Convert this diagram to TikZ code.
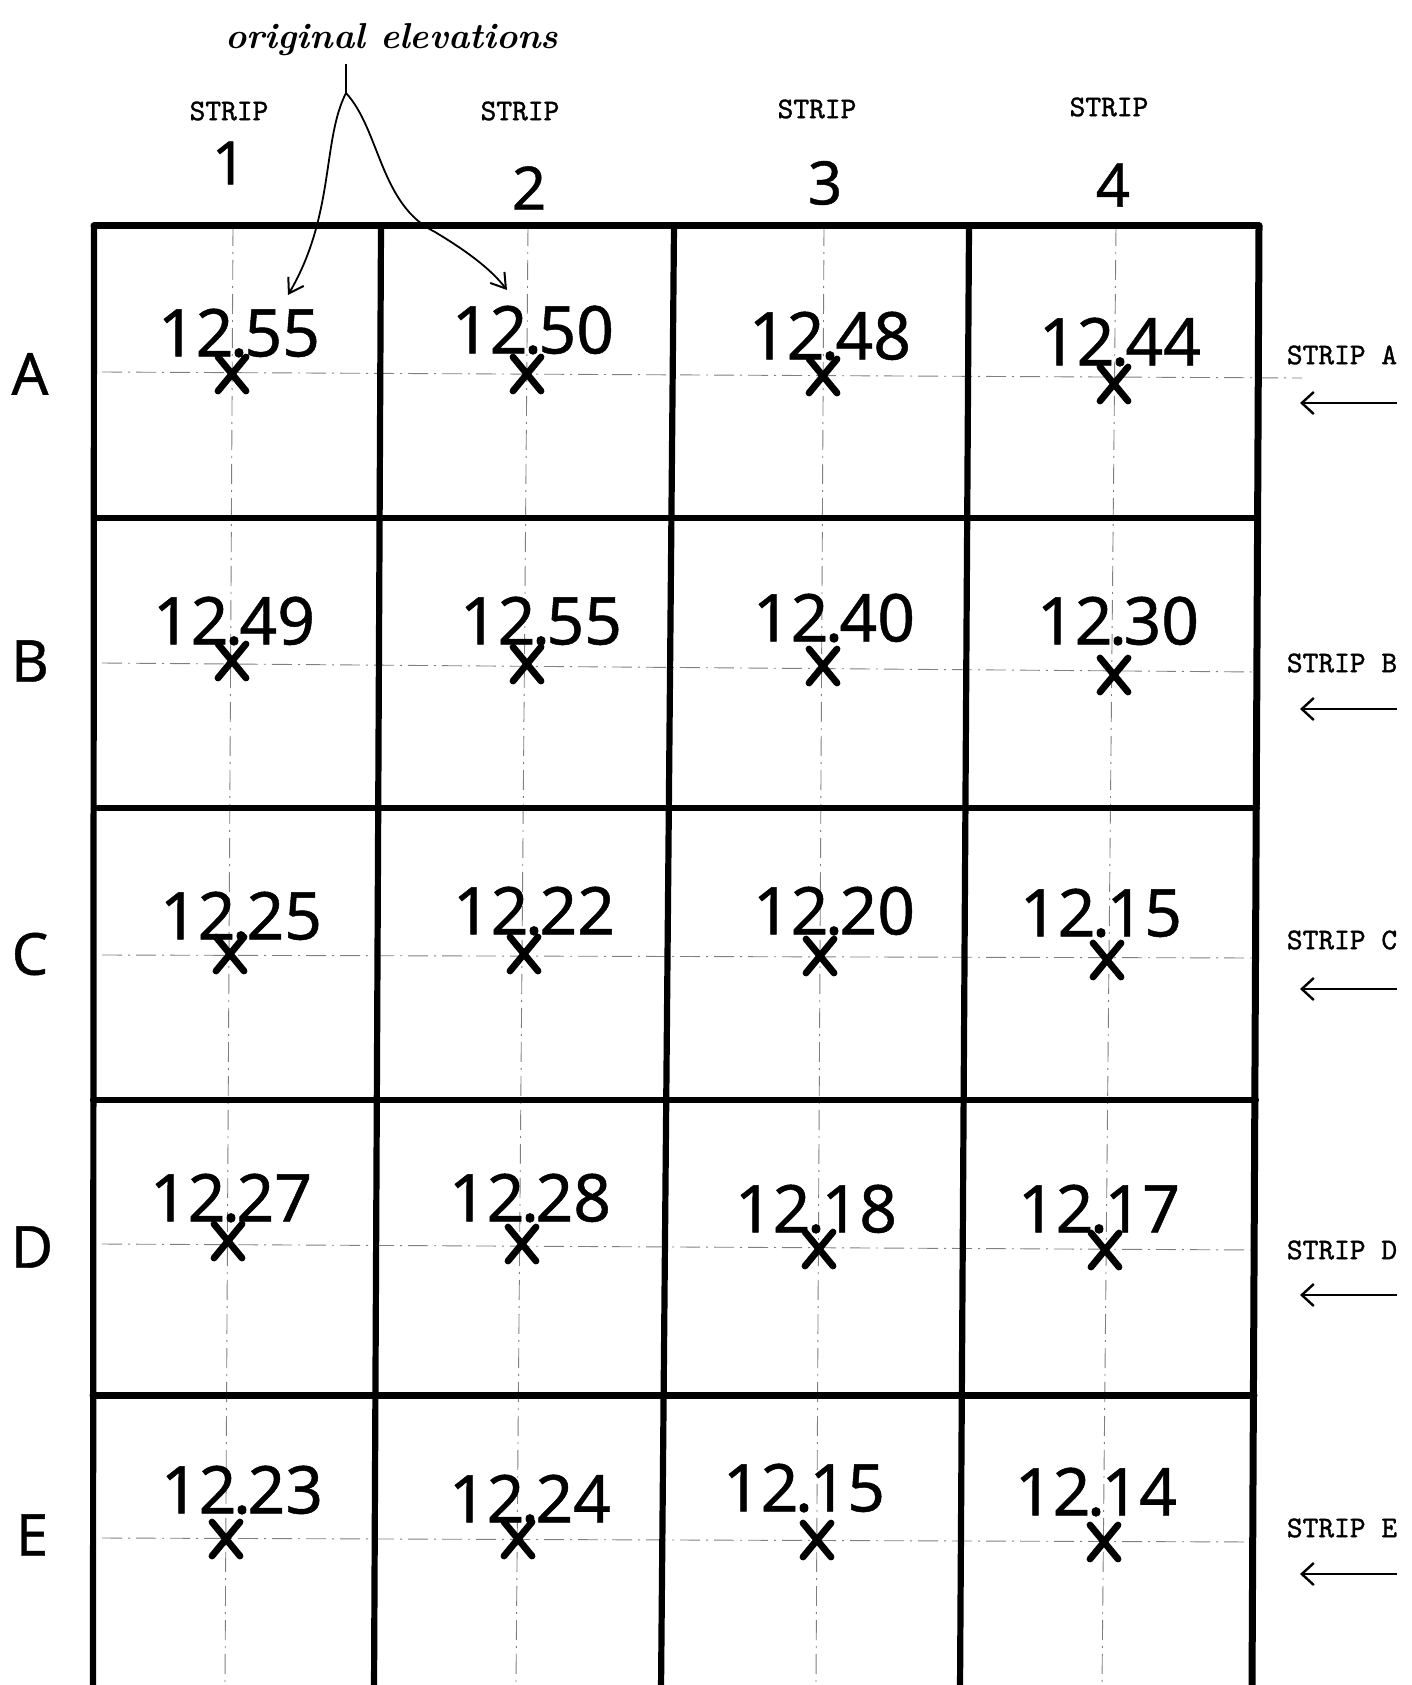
\documentclass[tikz,border=0pt]{standalone}
\usepackage{fontspec}
\newfontfamily\lettering{Noto Sans}[FakeBold=0.7]
\newfontfamily\typew{lmmono10-regular.otf}[FakeBold=1.2]
\usetikzlibrary{arrows.meta}
\tikzset{
  gridline/.style={line width=3.1pt, line cap=round},
  borderline/.style={line width=3.5pt, line cap=round},
  centerline/.style={line width=0.45pt, black!50, dash pattern=on 10pt off 3pt on 1pt off 3pt},
  elev/.style={font=\lettering\fontsize{33}{33}\selectfont, inner sep=0pt},
  rowlab/.style={font=\lettering\fontsize{29}{29}\selectfont, inner sep=0pt},
  stripnum/.style={font=\lettering\fontsize{30}{30}\selectfont, inner sep=0pt},
  striplab/.style={font=\typew\fontsize{15}{15}\selectfont, inner sep=0pt},
  xmark/.style={line width=3.4pt, line cap=round},
  annot/.style={font=\bfseries\itshape\fontsize{18}{18}\selectfont, inner sep=0pt},
  annarrow/.style={line width=0.9pt, -{Straight Barb[length=7pt,width=9pt,line width=1pt]}},
  striparrow/.style={line width=0.7pt, -{Straight Barb[length=6pt,width=11pt,line width=1.2pt]}}
}
\newcommand\elevnum[2]{#1\kern-0.05em.\kern-0.05em#2}
\begin{document}
\begin{tikzpicture}[x=0.5pt,y=-0.5pt]
\useasboundingbox (0,0) rectangle (1412,1685);
\fill[white] (0,0) rectangle (1412,1685);

% cut-off title at the very top
\node[anchor=base, inner sep=0pt, font=\lettering\fontsize{23}{23}\selectfont] (title) at (790,-3) {EXAMPLE 22};

% centre lines (dash-dot)
\draw[centerline] (233,226) -- (225,1685);
\draw[centerline] (528,226) -- (516,1685);
\draw[centerline] (824,226) -- (816,1685);
\draw[centerline] (1116,226) -- (1102,1685);
\draw[centerline] (102,372) -- (1302,378);
\draw[centerline] (102,663) -- (1258,672);
\draw[centerline] (102,955) -- (1258,958);
\draw[centerline] (102,1244) -- (1258,1250);
\draw[centerline] (102,1538) -- (1258,1542);

% grid
\draw[borderline] (94,226) -- (1259,226);
\draw[gridline] (94,226) -- (93,1690);
\draw[gridline] (381,226) -- (374,1690);
\draw[gridline] (674,226) -- (661,1690);
\draw[gridline] (969,226) -- (960,1690);
\draw[borderline] (1259,226) -- (1252,1690);
\draw[gridline] (94,518) -- (1258,518);
\draw[gridline] (94,808) -- (1257,808);
\draw[gridline] (93,1100) -- (1256,1100);
\draw[borderline] (93,1395) -- (1254,1395);

% strip headings
\node[striplab] (s1) at (229,111) {STRIP};
\node[striplab] (s2) at (520,111) {STRIP};
\node[striplab] (s3) at (817,109) {STRIP};
\node[striplab] (s4) at (1109,107) {STRIP};
\node[stripnum] (n1) at (229,163) {1};
\node[stripnum] (n2) at (529,188) {2};
\node[stripnum] (n3) at (825,183) {3};
\node[stripnum] (n4) at (1113,185) {4};

% row letters
\node[rowlab] (rA) at (30,374) {A};
\node[rowlab] (rB) at (30,661) {B};
\node[rowlab] (rC) at (30,954) {C};
\node[rowlab] (rD) at (32,1247) {D};
\node[rowlab] (rE) at (32,1535) {E};

% elevations
\foreach \nm/\a/\b/\x/\y in {
  A1/12/55/239/333, A2/12/50/533/330, A3/12/48/830/336, A4/12/44/1120/342,
  B1/12/49/234/621, B2/12/55/541/621, B3/12/40/834/618, B4/12/30/1118/621,
  C1/12/25/241/916, C2/12/22/534/911, C3/12/20/834/911, C4/12/15/1101/913,
  D1/12/27/231/1198, D2/12/28/530/1198, D3/12/18/816/1209, D4/12/17/1099/1209,
  E1/12/23/242/1490, E2/12/24/530/1499, E3/12/15/804/1488, E4/12/14/1096/1492}
  {\node[elev] (e\nm) at (\x,\y) {\elevnum{\a}{\b}};}

% X marks
\foreach \x/\y in {
  232/374, 527/374, 823/376, 1114/384,
  232/661, 527/664, 823/666, 1114/675,
  230/954, 524/954, 820/956, 1107/960,
  228/1241, 522/1244, 819/1249, 1105/1250,
  226/1539, 518/1539, 817/1540, 1104/1542}
  {\draw[xmark] (\x,\y) +(-14,-17) -- +(14,17) (\x,\y) +(-14,17) -- +(14,-17);}

% right hand strip labels and arrows
\foreach \r/\ly/\ay in {A/355/403, B/663/709, C/940/989, D/1250/1295, E/1528/1574}{
  \node[striplab] (sl\r) at (1342,\ly) {STRIP \r};
  \coordinate (as\r) at (1397,\ay);
  \coordinate (ae\r) at (1300,\ay);
  \draw[striparrow] (as\r) -- (ae\r);
}

% annotation
\node[annot] (annot) at (392,40) {original elevations};
\coordinate (stemtop) at (346,64);
\coordinate (fork) at (346,93);
\coordinate (tip1) at (288,295);
\coordinate (tip2) at (507,290);
\draw[line width=1.3pt] (stemtop) -- (fork);
\draw[annarrow] (fork) .. controls (322,140) and (335,215) .. (tip1);
\draw[annarrow] (fork) .. controls (380,130) and (380,205) .. (435,232) .. controls (465,250) and (490,268) .. (tip2);
\end{tikzpicture}
\end{document}
